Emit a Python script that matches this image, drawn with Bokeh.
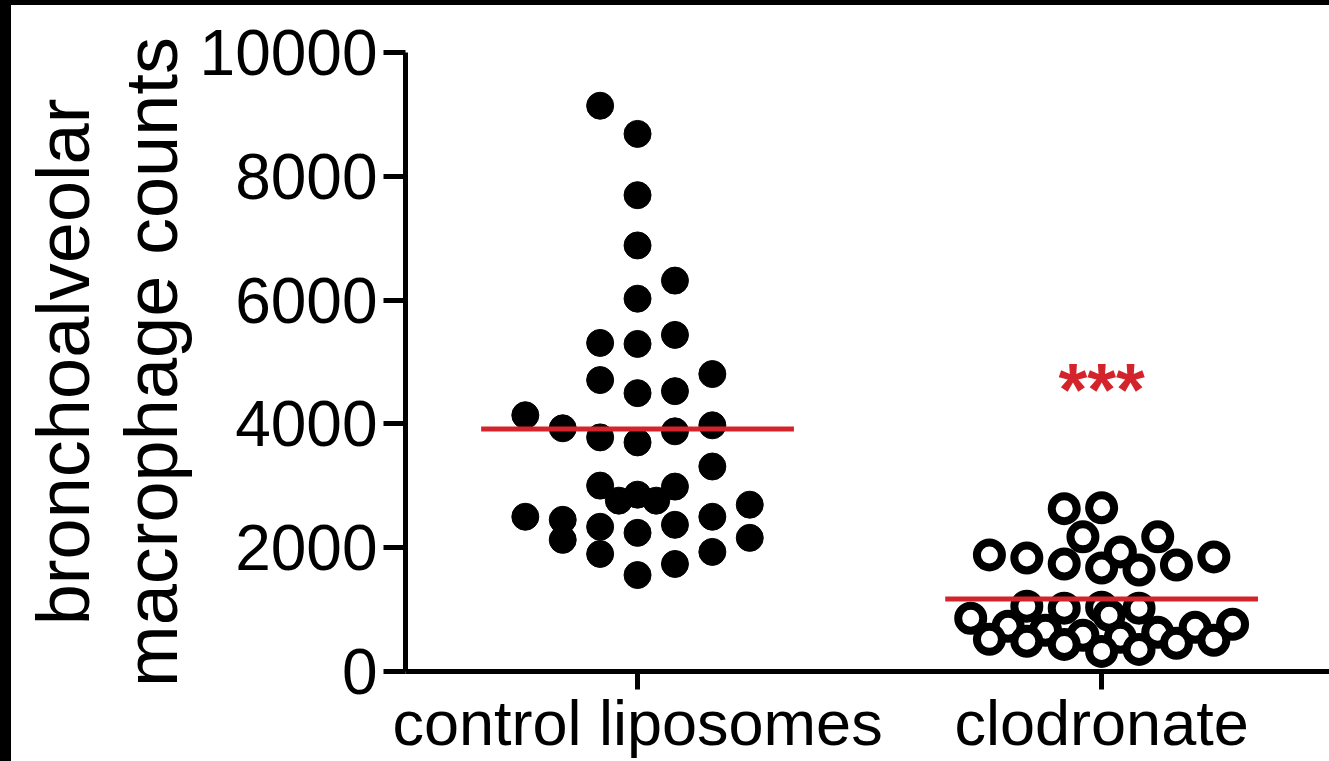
from bokeh.plotting import figure
from bokeh.models import FixedTicker, Title, Label, ColumnDataSource
from bokeh.embed import file_html
from bokeh.resources import INLINE

# ---------------- data ----------------
categories = ["control liposomes", "clodronate"]

control_counts = [9140, 8685, 7695, 6883, 6315, 6023,
                  5308, 5292, 5438,
                  4708, 4497, 4529, 4805,
                  4140, 3929, 3782, 3701, 3880, 3977,
                  3312,
                  3003, 2760, 2857, 2760, 2987,
                  2500, 2451, 2127, 2338, 1899, 2240, 1558, 2370, 1737, 2500, 1932, 2695, 2159]
# swarm column of every control point (in dot widths from the group centre)
control_slot = [-1, 0, 0, 0, 1, 0,
                -1, 0, 1,
                -1, 0, 1, 2,
                -3, -2, -1, 0, 1, 2,
                2,
                -1, -0.5, 0, 0.5, 1,
                -3, -2, -2, -1, -1, 0, 0, 1, 1, 2, 2, 3, 3]

clodronate_counts = [2630, 2646, 2175, 2175,
                     1883, 1834, 1737, 1672, 1932, 1640, 1721, 1851,
                     1055, 1023, 1039, 1023, 909,
                     860, 731, 666, 584, 552, 633, 714, 763,
                     519, 487, 438, 325, 357, 455, 503]
clodronate_slot = [-1, 0, -0.5, 1.5,
                   -3, -2, -1, 0, 0.5, 1, 2, 3,
                   -2, -1, 0, 1, 0.2,
                   -3.5, -2.5, -1.5, -0.5, 0.5, 1.5, 2.5, 3.5,
                   -3, -2, -1, 0, 1, 2, 3]

y_ticks = [0, 2000, 4000, 6000, 8000, 10000]
significance = "***"
y_title_lines = ["bronchoalveolar", "macrophage counts"]

# ---------------- styling constants ----------------
SLOT_W = 0.0806      # one dot width in category units
HALF_LINE = 0.337    # half length of the mean bar
RED = "#d3242b"
FONT = "Liberation Sans"

control_mean = sum(control_counts) / len(control_counts)
clodronate_mean = sum(clodronate_counts) / len(clodronate_counts)

src_ctrl = ColumnDataSource(dict(x=[0 + s * SLOT_W for s in control_slot], y=control_counts))
src_clod = ColumnDataSource(dict(x=[1 + s * SLOT_W for s in clodronate_slot], y=clodronate_counts))
src_mean = ColumnDataSource(dict(x0=[0 - HALF_LINE, 1 - HALF_LINE],
                                 x1=[0 + HALF_LINE, 1 + HALF_LINE],
                                 y=[control_mean, clodronate_mean]))

p = figure(width=1329, height=760, x_range=(-0.5, 1.491), y_range=(0, 10000),
           output_backend="svg", toolbar_location=None,
           min_border_left=405, min_border_top=52, min_border_bottom=85, min_border_right=0)
p.background_fill_color = "white"
p.border_fill_color = "white"
p.outline_line_color = None
p.xgrid.visible = False
p.ygrid.visible = False

p.scatter("x", "y", source=src_ctrl, marker="circle", size=27,
          fill_color="black", line_color="black", line_width=1)
p.scatter("x", "y", source=src_clod, marker="circle", size=25,
          fill_color="white", line_color="black", line_width=8)
p.segment(x0="x0", x1="x1", y0="y", y1="y", source=src_mean,
          line_color=RED, line_width=5)

p.add_layout(Label(x=1, y=4550, text=significance, text_align="center",
                   text_baseline="middle", text_color=RED, text_font=FONT,
                   text_font_size="74px", text_font_style="bold"))

# axes
for ax in (p.xaxis[0], p.yaxis[0]):
    ax.axis_line_width = 5
    ax.axis_line_color = "black"
    ax.major_tick_line_width = 5
    ax.major_tick_line_color = "black"
    ax.major_tick_in = 0
    ax.minor_tick_line_color = None
    ax.major_label_text_font = FONT
    ax.major_label_text_color = "black"

p.yaxis.ticker = FixedTicker(ticks=y_ticks)
p.yaxis.major_tick_out = 22
p.yaxis.major_label_standoff = 6
p.yaxis.major_label_text_font_size = "64px"

p.xaxis.ticker = FixedTicker(ticks=[0, 1])
p.xaxis.major_label_overrides = {0: categories[0], 1: categories[1]}
p.xaxis.major_tick_out = 18
p.xaxis.major_label_standoff = -2
p.xaxis.major_label_text_font_size = "63px"

# two-line y-axis title (inner line first)
p.add_layout(Title(text=y_title_lines[1], align="center", text_font=FONT,
                   text_font_size="74px", text_font_style="normal",
                   text_color="black", standoff=7), "left")
p.add_layout(Title(text=y_title_lines[0], align="center", text_font=FONT,
                   text_font_size="74px", text_font_style="normal",
                   text_color="black", standoff=0), "left")

html = file_html(p, INLINE)
# dark scan edges of the original picture (left and top), drawn as page overlays
edge_css = ("<style>body::before{content:'';position:fixed;left:0;top:0;width:11px;height:100%;"
            "background:#000;z-index:10}body::after{content:'';position:fixed;left:0;top:0;"
            "width:100%;height:5px;background:#000;z-index:10}</style>")
html = html.replace("</head>", edge_css + "</head>", 1)
open("out.html", "w").write(html)
